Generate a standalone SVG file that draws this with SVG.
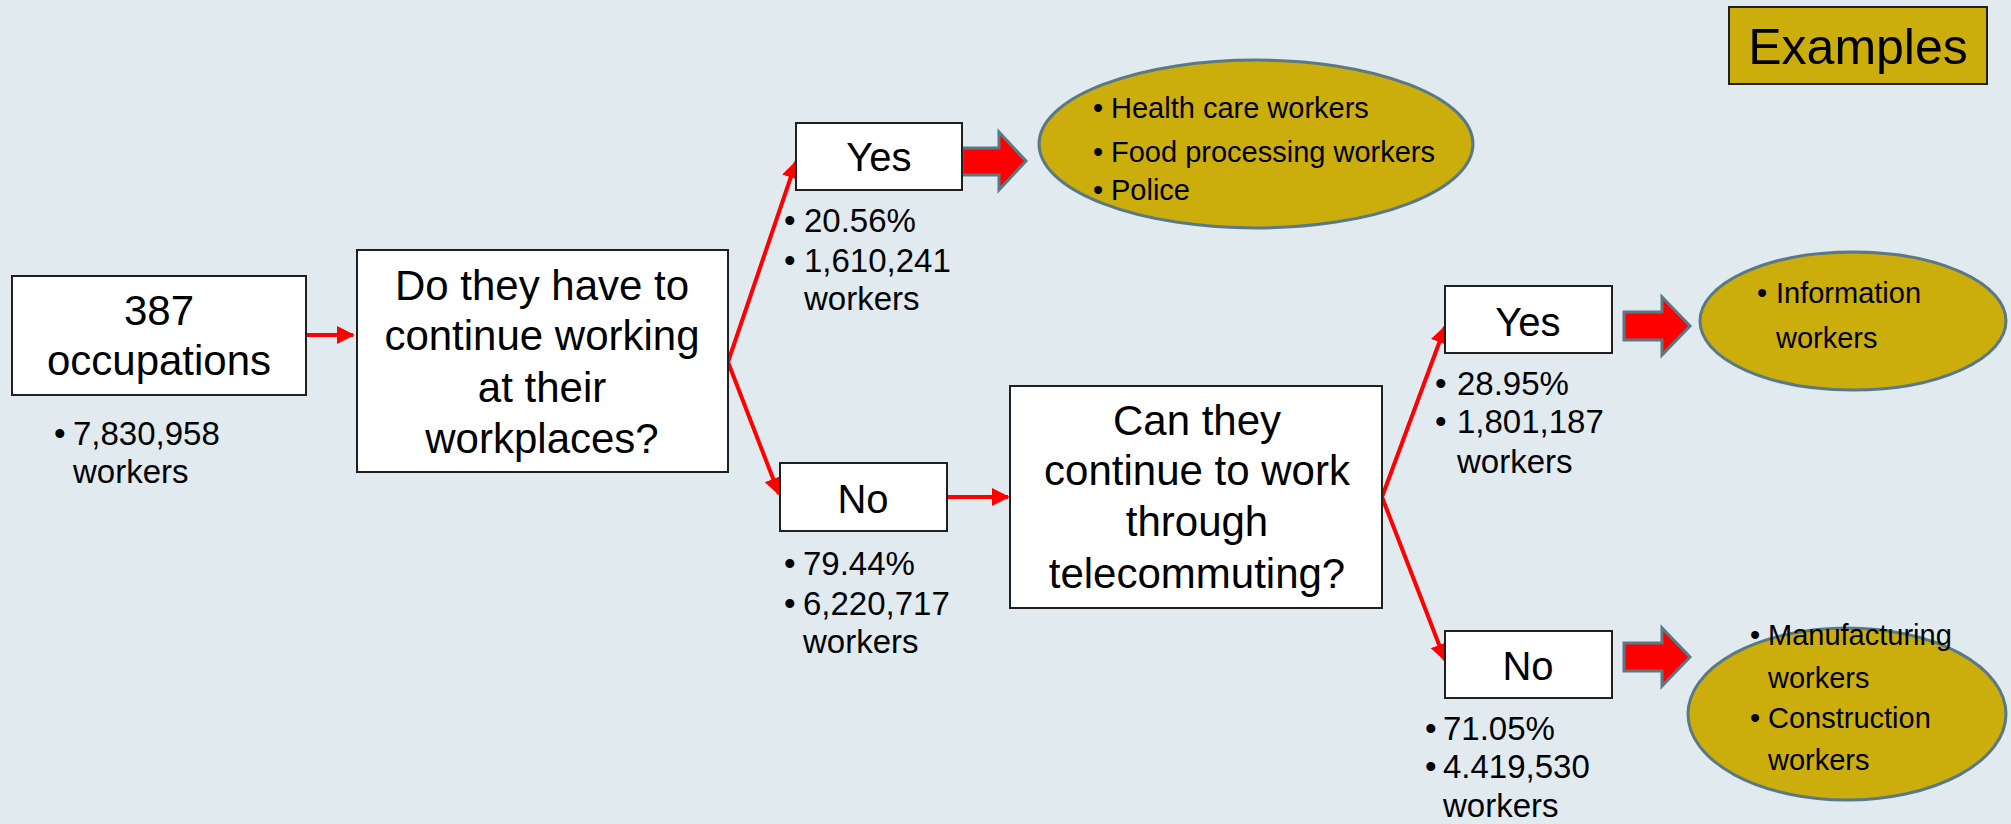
<svg xmlns="http://www.w3.org/2000/svg" width="2011" height="824" viewBox="0 0 2011 824">
  <style>
    .box { fill: #ffffff; stroke: #1f1f1f; stroke-width: 2; }
    .oval { fill: #CBAD0C; stroke: #587985; stroke-width: 3; }
    .block { fill: #ff0000; stroke: #587985; stroke-width: 3; stroke-linejoin: miter; }
    .link { fill: none; stroke: #ff0000; stroke-width: 4; }
    .q { font-family: "Liberation Sans", Arial, sans-serif; font-size: 42px; fill: #000; text-anchor: middle; }
    .ans { font-family: "Liberation Sans", Arial, sans-serif; font-size: 40px; fill: #000; text-anchor: middle; }
    .stat { font-family: "Liberation Sans", Arial, sans-serif; font-size: 33px; fill: #000; }
    .ex { font-family: "Liberation Sans", Arial, sans-serif; font-size: 29px; fill: #000; }
    .title { font-family: "Liberation Sans", Arial, sans-serif; font-size: 50px; fill: #000; text-anchor: middle; }
  </style>
  <defs>
    <marker id="head" viewBox="0 0 10 10" refX="9" refY="5" markerWidth="4.5" markerHeight="5" orient="auto" markerUnits="strokeWidth">
      <path d="M0,0 L10,5 L0,10 Z" fill="#ff0000"/>
    </marker>
  </defs>

  <rect x="0" y="0" width="2011" height="824" fill="#E1EAEE"/>

  <!-- connectors -->
  <g id="connectors">
    <line class="link" x1="306" y1="335" x2="353" y2="335" marker-end="url(#head)"/>
    <line class="link" x1="728" y1="362" x2="796" y2="162" marker-end="url(#head)"/>
    <line class="link" x1="728" y1="362" x2="779" y2="494" marker-end="url(#head)"/>
    <line class="link" x1="947" y1="497" x2="1008" y2="497" marker-end="url(#head)"/>
    <line class="link" x1="1382" y1="497" x2="1445" y2="327" marker-end="url(#head)"/>
    <line class="link" x1="1382" y1="497" x2="1445" y2="660" marker-end="url(#head)"/>
    <path class="block" d="M962,148 L999,148 L999,132 L1026,161 L999,190 L999,175 L962,175 Z"/>
    <path class="block" d="M1624,312 L1662,312 L1662,297 L1690,326 L1662,355 L1662,340 L1624,340 Z"/>
    <path class="block" d="M1624,643 L1662,643 L1662,628 L1690,657 L1662,686 L1662,671 L1624,671 Z"/>
  </g>

  <!-- start: occupations -->
  <g id="occupations">
    <rect class="box" x="12" y="276" width="294" height="119"/>
    <text class="q" x="159" y="325">387</text>
    <text class="q" x="159" y="375">occupations</text>
    <text class="stat" x="54" y="445">•</text>
    <text class="stat" x="73" y="445">7,830,958</text>
    <text class="stat" x="73" y="483">workers</text>
  </g>

  <!-- question 1 -->
  <g id="q-workplace">
    <rect class="box" x="357" y="250" width="371" height="222"/>
    <text class="q" x="542" y="300">Do they have to</text>
    <text class="q" x="542" y="350">continue working</text>
    <text class="q" x="542" y="402">at their</text>
    <text class="q" x="542" y="453">workplaces?</text>
  </g>

  <g id="yes-1">
    <rect class="box" x="796" y="123" width="166" height="67"/>
    <text class="ans" x="879" y="171">Yes</text>
    <text class="stat" x="784" y="232">•</text>
    <text class="stat" x="804" y="232">20.56%</text>
    <text class="stat" x="784" y="272">•</text>
    <text class="stat" x="804" y="272">1,610,241</text>
    <text class="stat" x="804" y="310">workers</text>
  </g>

  <g id="no-1">
    <rect class="box" x="780" y="463" width="167" height="68"/>
    <text class="ans" x="863" y="513">No</text>
    <text class="stat" x="784" y="575">•</text>
    <text class="stat" x="803" y="575">79.44%</text>
    <text class="stat" x="784" y="615">•</text>
    <text class="stat" x="803" y="615">6,220,717</text>
    <text class="stat" x="803" y="653">workers</text>
  </g>

  <g id="examples-1">
    <ellipse class="oval" cx="1256" cy="144" rx="217" ry="84"/>
    <text class="ex" x="1093" y="118">•</text>
    <text class="ex" x="1111" y="118">Health care workers</text>
    <text class="ex" x="1093" y="162">•</text>
    <text class="ex" x="1111" y="162">Food processing workers</text>
    <text class="ex" x="1093" y="200">•</text>
    <text class="ex" x="1111" y="200">Police</text>
  </g>

  <!-- question 2 -->
  <g id="q-telecommute">
    <rect class="box" x="1010" y="386" width="372" height="222"/>
    <text class="q" x="1197" y="435">Can they</text>
    <text class="q" x="1197" y="485">continue to work</text>
    <text class="q" x="1197" y="536">through</text>
    <text class="q" x="1197" y="588">telecommuting?</text>
  </g>

  <g id="yes-2">
    <rect class="box" x="1445" y="286" width="167" height="67"/>
    <text class="ans" x="1528" y="336">Yes</text>
    <text class="stat" x="1435" y="395">•</text>
    <text class="stat" x="1457" y="395">28.95%</text>
    <text class="stat" x="1435" y="433">•</text>
    <text class="stat" x="1457" y="433">1,801,187</text>
    <text class="stat" x="1457" y="473">workers</text>
  </g>

  <g id="no-2">
    <rect class="box" x="1445" y="631" width="167" height="67"/>
    <text class="ans" x="1528" y="680">No</text>
    <text class="stat" x="1425" y="740">•</text>
    <text class="stat" x="1443" y="740">71.05%</text>
    <text class="stat" x="1425" y="778">•</text>
    <text class="stat" x="1443" y="778">4.419,530</text>
    <text class="stat" x="1443" y="817">workers</text>
  </g>

  <g id="examples-2">
    <ellipse class="oval" cx="1853" cy="321" rx="153" ry="69"/>
    <text class="ex" x="1757" y="303">•</text>
    <text class="ex" x="1776" y="303">Information</text>
    <text class="ex" x="1776" y="348">workers</text>
  </g>

  <g id="examples-3">
    <ellipse class="oval" cx="1847" cy="714" rx="159" ry="86"/>
    <text class="ex" x="1750" y="645">•</text>
    <text class="ex" x="1768" y="645">Manufacturing</text>
    <text class="ex" x="1768" y="688">workers</text>
    <text class="ex" x="1750" y="728">•</text>
    <text class="ex" x="1768" y="728">Construction</text>
    <text class="ex" x="1768" y="770">workers</text>
  </g>

  <g id="examples-label">
    <rect x="1729" y="7" width="258" height="77" fill="#CBAD0C" stroke="#1f1f1f" stroke-width="2"/>
    <text class="title" x="1858" y="64">Examples</text>
  </g>
</svg>
